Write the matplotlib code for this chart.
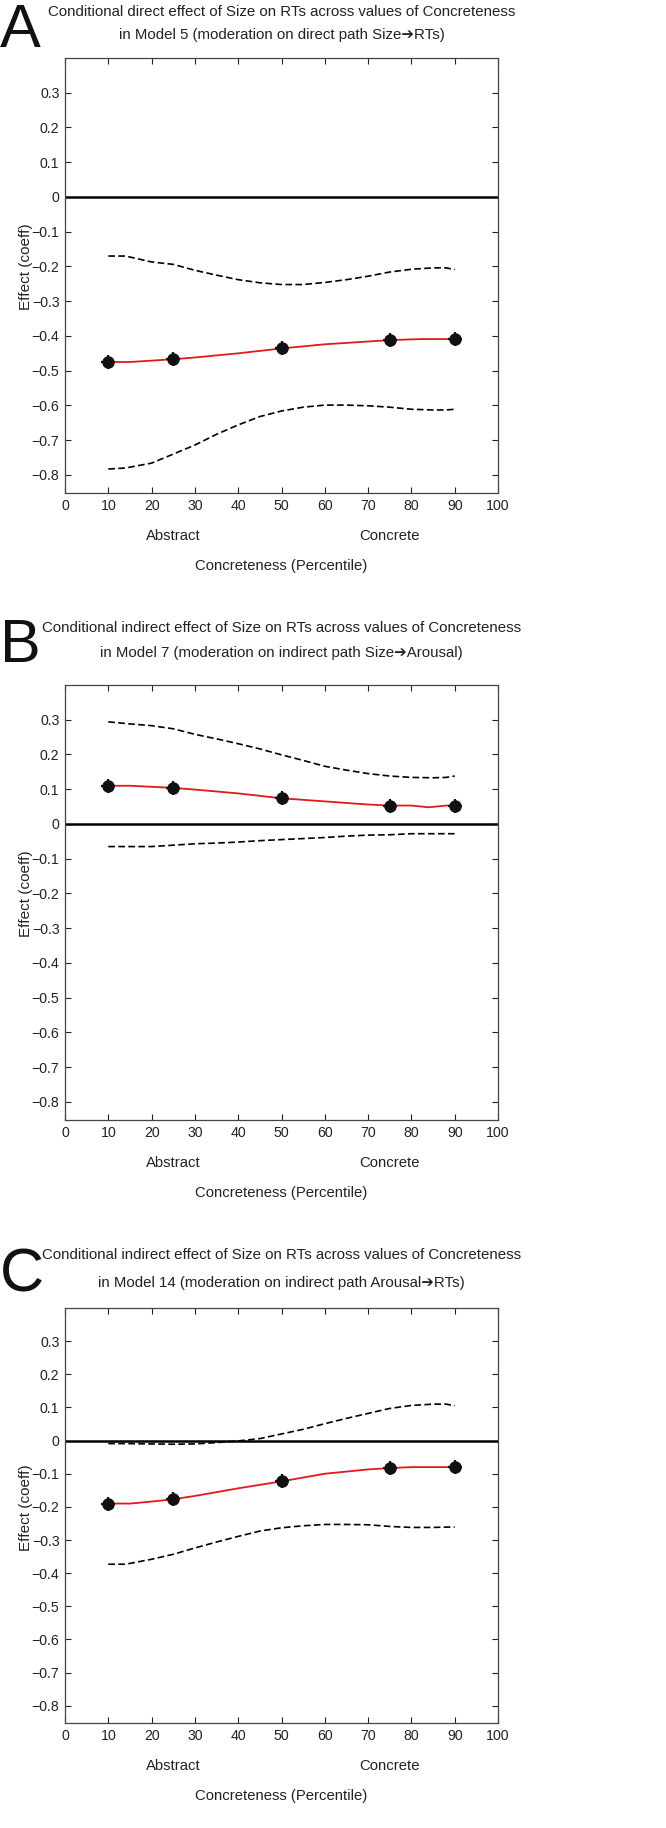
import matplotlib
matplotlib.use("Agg")
import matplotlib.pyplot as plt
import numpy as np

NARROW = ['Liberation Sans Narrow', 'Liberation Sans', 'DejaVu Sans']
plt.rcParams['font.family'] = NARROW

# ---- data ----
pct_points = [10, 25, 50, 75, 90]

# Panel A
a_mid_x = [10, 15, 20, 25, 30, 40, 50, 60, 70, 75, 82, 90]
a_mid_y = [-0.475, -0.475, -0.471, -0.467, -0.462, -0.450, -0.436, -0.424, -0.416, -0.412, -0.409, -0.409]
a_pts = [-0.475, -0.467, -0.436, -0.412, -0.409]
a_ci_x = [10, 14, 20, 25, 30, 35, 40, 45, 50, 55, 60, 65, 70, 75, 80, 85, 88, 90]
a_up = [-0.170, -0.170, -0.187, -0.194, -0.211, -0.225, -0.238, -0.247, -0.252, -0.252,
        -0.246, -0.238, -0.228, -0.216, -0.208, -0.204, -0.204, -0.209]
a_lo = [-0.783, -0.780, -0.766, -0.740, -0.714, -0.683, -0.656, -0.632, -0.616, -0.605,
        -0.599, -0.599, -0.601, -0.605, -0.611, -0.613, -0.613, -0.611]

# Panel B
b_mid_x = [10, 15, 20, 25, 30, 40, 50, 60, 70, 75, 80, 84, 88, 90]
b_mid_y = [0.110, 0.110, 0.107, 0.104, 0.099, 0.088, 0.074, 0.065, 0.056, 0.053, 0.053, 0.048, 0.053, 0.053]
b_pts = [0.110, 0.104, 0.074, 0.053, 0.053]
b_ci_x = [10, 15, 20, 25, 30, 35, 40, 45, 50, 55, 60, 65, 70, 75, 80, 85, 88, 90]
b_up = [0.294, 0.288, 0.283, 0.274, 0.258, 0.245, 0.231, 0.216, 0.199, 0.183,
        0.166, 0.155, 0.145, 0.138, 0.134, 0.133, 0.134, 0.138]
b_lo = [-0.065, -0.065, -0.065, -0.061, -0.057, -0.055, -0.052, -0.048, -0.045, -0.042,
        -0.039, -0.035, -0.032, -0.031, -0.028, -0.028, -0.028, -0.028]

# Panel C
c_mid_x = [10, 15, 20, 25, 30, 40, 50, 60, 70, 75, 80, 90]
c_mid_y = [-0.190, -0.190, -0.184, -0.177, -0.167, -0.144, -0.123, -0.100, -0.087, -0.083, -0.080, -0.080]
c_pts = [-0.190, -0.177, -0.123, -0.083, -0.080]
c_ci_x = [10, 14, 20, 25, 30, 35, 40, 45, 50, 55, 60, 65, 70, 75, 80, 85, 88, 90]
c_up = [-0.009, -0.009, -0.010, -0.011, -0.010, -0.006, -0.001, 0.006, 0.020, 0.034,
        0.051, 0.067, 0.082, 0.097, 0.106, 0.110, 0.110, 0.105]
c_lo = [-0.373, -0.373, -0.358, -0.343, -0.324, -0.306, -0.289, -0.273, -0.263, -0.257,
        -0.253, -0.253, -0.254, -0.259, -0.262, -0.262, -0.261, -0.261]

x_ticks = list(range(0, 101, 10))
y_ticks = [-0.8, -0.7, -0.6, -0.5, -0.4, -0.3, -0.2, -0.1, 0, 0.1, 0.2, 0.3]
y_ticklabels = ['\u22120.8', '\u22120.7', '\u22120.6', '\u22120.5', '\u22120.4', '\u22120.3',
                '\u22120.2', '\u22120.1', '0', '0.1', '0.2', '0.3']

letters = ['A', 'B', 'C']
titles = [
    "Conditional direct effect of Size on RTs across values of Concreteness\nin Model 5 (moderation on direct path Size\u2794RTs)",
    "Conditional indirect effect of Size on RTs across values of Concreteness\nin Model 7 (moderation on indirect path Size\u2794Arousal)",
    "Conditional indirect effect of Size on RTs across values of Concreteness\nin Model 14 (moderation on indirect path Arousal\u2794RTs)",
]

W, H = 666, 1828
fig = plt.figure(figsize=(W / 100, H / 100), dpi=100)

# axes boxes in pixels: (left, top, right, bottom)
boxes = [(65, 58, 498, 493), (65, 685, 498, 1120), (65, 1308, 498, 1723)]
title_y = [(12, 35), (628, 653), (1255, 1283)]
letter_base = [47, 662, 1291]

panels = [
    (a_mid_x, a_mid_y, a_pts, a_ci_x, a_up, a_lo),
    (b_mid_x, b_mid_y, b_pts, b_ci_x, b_up, b_lo),
    (c_mid_x, c_mid_y, c_pts, c_ci_x, c_up, c_lo),
]

YMIN, YMAX = -0.852, 0.40

for i, (mx, my, pts, cx, up, lo) in enumerate(panels):
    l, t, r, b = boxes[i]
    ax = fig.add_axes([l / W, 1 - b / H, (r - l) / W, (b - t) / H])
    ax.set_xlim(0, 100)
    ax.set_ylim(YMIN, YMAX)
    ax.axhline(0, color='black', lw=1.8, zorder=2)
    ax.plot(cx, up, color='black', ls='--', lw=1.2, dashes=(4, 2), zorder=3)
    ax.plot(cx, lo, color='black', ls='--', lw=1.2, dashes=(4, 2), zorder=3)
    ax.plot(mx, my, color='#e01a1a', lw=1.3, zorder=4)
    ax.plot(pct_points, pts, ls='none', marker='o', ms=8, color='#111111', zorder=5)
    ax.plot(pct_points, pts, ls='none', marker='+', ms=10, mew=1.6, color='#111111', zorder=5)
    ax.set_xticks(x_ticks)
    ax.set_yticks(y_ticks)
    ax.set_yticklabels(y_ticklabels)
    ax.tick_params(direction='in', top=True, right=True, length=4, width=0.8,
                   labelsize=10.2, colors='#222222', pad=4)
    for s in ax.spines.values():
        s.set_linewidth(0.9)
        s.set_color('#444444')
    ax.set_ylabel('Effect (coeff)', fontsize=11, color='#222222',
                  family=['Liberation Sans', 'DejaVu Sans'])
    ax.yaxis.set_label_coords(-0.074, 0.52)
    # category labels under axis (positions in axes fraction)
    hpx = b - t
    ax.text(0.25, -43 / hpx, 'Abstract', transform=ax.transAxes, ha='center', va='center',
            fontsize=10.7, color='#222222')
    ax.text(0.75, -43 / hpx, 'Concrete', transform=ax.transAxes, ha='center', va='center',
            fontsize=10.7, color='#222222')
    ax.text(0.5, -73 / hpx, 'Concreteness (Percentile)', transform=ax.transAxes,
            ha='center', va='center', fontsize=10.7, color='#222222')
    # titles
    lines = titles[i].split('\n')
    cxp = (l + r) / 2
    for ln, yy in zip(lines, title_y[i]):
        fig.text(cxp / W, 1 - yy / H, ln, ha='center', va='center', fontsize=10.8,
                 color='#222222', family=NARROW)
    fig.text(0 / W, 1 - letter_base[i] / H, letters[i], ha='left', va='baseline', fontsize=44,
             color='#111111', family=NARROW)

fig.savefig('out.png', dpi=100)
